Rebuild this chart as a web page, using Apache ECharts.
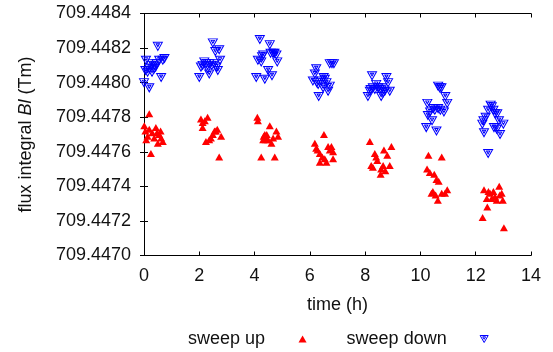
<!DOCTYPE html>
<html>
<head>
<meta charset="utf-8">
<script src="https://cdn.jsdelivr.net/npm/echarts@6/dist/echarts.min.js"></script>
<style>html,body{margin:0;padding:0;background:#fff;}#c{width:553px;height:352px;}</style>
</head>
<body>
<div id="c"></div>
<script>
// ---- data (time in h, flux integral in Tm) ----
const upTime = [
  0.19,0.01,0.19,0.43,0.13,0.37,0.55,0.62,0.68,0.50,0.25,0.05,0.30,0.47,0.60,0.08,
  2.06,2.30,2.12,2.12,2.60,2.49,2.79,2.36,2.24,2.72,2.55,2.65,2.42,2.20,
  4.10,4.12,4.55,4.79,4.85,4.37,4.31,4.49,4.61,4.24,4.73,4.40,4.44,4.67,4.33,
  6.51,6.18,6.23,6.66,6.78,6.36,6.84,6.54,6.84,6.36,6.60,6.28,6.72,6.45,
  8.17,8.95,8.68,8.35,8.80,8.44,8.22,8.28,8.89,8.58,8.73,8.56,8.65,8.40,
  10.29,10.77,10.24,10.34,10.50,10.58,10.66,10.45,10.40,10.77,10.89,10.97,10.63,10.55,
  12.30,12.46,12.64,12.85,12.94,12.40,12.58,12.76,12.98,12.42,12.25,13.02,12.52,12.70,12.87
];
const upFlux = [
  709.44782,709.44775,709.44773,709.44774,709.44769,709.44768,709.44770,709.44768,709.44766,709.44765,709.44759,709.44772,709.44771,709.44771,709.44772,709.44767,
  709.44779,709.44780,709.44777,709.44774,709.44772,709.44770,709.44769,709.44767,709.44766,709.44757,709.44772,709.44773,709.44768,709.44778,
  709.44780,709.44778,709.44775,709.44772,709.44769,709.44770,709.44767,709.44767,709.44765,709.44757,709.44757,709.44767,709.44770,709.44768,709.44769,
  709.44770,709.44765,709.44762,709.44763,709.44763,709.44759,709.44760,709.44756,709.44756,709.44754,709.44754,709.44761,709.44761,709.44757,
  709.44766,709.44763,709.44761,709.44759,709.44758,709.44755,709.44752,709.44751,709.44752,709.44750,709.44749,709.44747,709.44752,709.44757,
  709.44758,709.44757,709.44750,709.44748,709.44747,709.44744,709.44743,709.44737,709.44736,709.44736,709.44736,709.44738,709.44732,709.44735,
  709.44738,709.44737,709.44737,709.44740,709.44736,709.44733,709.44733,709.44732,709.44732,709.44728,709.44722,709.44716,709.44736,709.44734,709.44735
];
const downTime = [
  0.50,0.07,0.31,0.55,0.68,0.46,0.19,0.37,0.13,0.62,0.00,0.19,0.26,0.42,0.74,0.05,0.29,
  2.49,2.58,2.72,2.18,2.36,2.54,2.75,2.06,2.30,2.67,2.00,2.36,2.24,2.12,2.45,2.62,
  4.19,4.55,4.31,4.67,4.79,4.12,4.24,4.82,4.49,4.06,4.37,4.63,4.72,4.27,4.58,
  6.72,6.87,6.80,6.23,6.18,6.11,6.54,6.30,6.72,6.48,6.66,6.32,6.42,6.60,6.25,6.50,
  8.25,8.77,8.83,8.40,8.28,8.17,8.53,8.71,8.89,8.10,8.58,8.65,8.35,8.47,8.62,8.20,
  10.64,10.76,10.70,10.90,10.97,10.25,10.46,10.64,10.85,10.27,10.42,10.21,10.58,10.52,10.72,10.35,
  12.54,12.45,12.64,12.78,12.36,12.28,12.84,13.00,12.24,12.66,12.76,12.30,12.88,12.45,12.58,12.70
];
const downFlux = [
  709.44821,709.44813,709.44811,709.44813,709.44813,709.44811,709.44808,709.44808,709.44806,709.44803,709.44800,709.44797,709.44810,709.44809,709.44814,709.44807,709.44806,
  709.44823,709.44818,709.44819,709.44812,709.44811,709.44811,709.44813,709.44809,709.44808,709.44807,709.44803,709.44805,709.44811,709.44810,709.44810,709.44809,
  709.44825,709.44822,709.44816,709.44817,709.44816,709.44813,709.44812,709.44812,709.44807,709.44803,709.44802,709.44804,709.44817,709.44815,709.44817,
  709.44811,709.44811,709.44811,709.44808,709.44805,709.44801,709.44802,709.44799,709.44798,709.44797,709.44795,709.44792,709.44801,709.44800,709.44800,709.44803,
  709.44804,709.44803,709.44800,709.44799,709.44797,709.44795,709.44796,709.44795,709.44795,709.44792,709.44792,709.44794,709.44796,709.44797,709.44797,709.44796,
  709.44798,709.44797,709.44797,709.44792,709.44788,709.44788,709.44785,709.44785,709.44783,709.44781,709.44778,709.44774,709.44772,709.44784,709.44784,709.44783,
  709.44787,709.44784,709.44784,709.44782,709.44780,709.44778,709.44778,709.44776,709.44776,709.44774,709.44773,709.44771,709.44770,709.44759,709.44786,709.44782
];
const seriesNames = ['sweep up', 'sweep down'];
const xTicks = [0, 2, 4, 6, 8, 10, 12, 14];
const yTicks = ['709.4470','709.4472','709.4474','709.4476','709.4478','709.4480','709.4482','709.4484'];

// ---- chart ----
const FONT = 'Liberation Sans, Arial, Helvetica, sans-serif';
const TXT = '#111';
const upSymbol = 'path://M5,0L10,8.66L0,8.66Z';
const downSymbol = 'path://M0,0L10,0L5,8.66Z M3.2,1.6L6.8,1.6L5,4.7Z';
const xMin = xTicks[0], xMax = xTicks[xTicks.length-1];
const yMin = parseFloat(yTicks[0]), yMax = parseFloat(yTicks[yTicks.length-1]);

const tick = {show:true, inside:true, length:4, lineStyle:{color:'#000', width:1}};
const line = {show:true, lineStyle:{color:'#000', width:1}};
const upStyle = {color:'#ff0000', opacity:1};
const downStyle = {color:'rgba(255,255,255,0)', borderColor:'#0000ff', borderWidth:1, opacity:1};

const chart = echarts.init(document.getElementById('c'), null, {renderer:'canvas'});
chart.setOption({
  animation:false,
  backgroundColor:'#fff',
  textStyle:{fontFamily:FONT, color:TXT},
  grid:{left:144, right:22, top:13.5, bottom:96.5, containLabel:false},
  legend:{
    data:[
      {name:seriesNames[0], icon:upSymbol, itemStyle:upStyle},
      {name:seriesNames[1], icon:downSymbol, itemStyle:downStyle}
    ],
    top:325,
    left:183,
    align:'right',
    symbolKeepAspect:true,
    itemWidth:65, itemHeight:7, itemGap:40,
    textStyle:{fontFamily:FONT, fontSize:18, color:TXT}
  },
  xAxis:[{
    type:'value', min:xMin, max:xMax, interval:2,
    axisLine:line, axisTick:tick, splitLine:{show:false},
    axisLabel:{fontSize:18, color:TXT, fontFamily:FONT, margin:12},
    name:'time (h)', nameLocation:'middle', nameGap:41,
    nameTextStyle:{fontSize:18, color:TXT, fontFamily:FONT}
  },{
    type:'value', position:'top', min:xMin, max:xMax, interval:2,
    axisLine:line, axisTick:tick, axisLabel:{show:false}, splitLine:{show:false}
  }],
  yAxis:[{
    type:'value', min:yMin, max:yMax, interval:0.0002, scale:true,
    axisLine:line, axisTick:tick, splitLine:{show:false},
    axisLabel:{fontSize:18, color:TXT, fontFamily:FONT, margin:13,
      formatter:function(v){ return v.toFixed(4); }},
    name:'{n|flux integral }{i|Bl}{n| (Tm)}', nameLocation:'middle', nameRotate:90, nameGap:109,
    nameTextStyle:{fontSize:18, color:TXT, fontFamily:FONT,
      rich:{n:{fontSize:18, color:TXT, fontFamily:FONT}, i:{fontSize:18, color:TXT, fontFamily:FONT, fontStyle:'italic'}}}
  },{
    type:'value', position:'right', min:yMin, max:yMax, interval:0.0002, scale:true,
    axisLine:line, axisTick:tick, axisLabel:{show:false}, splitLine:{show:false}
  }],
  series:[{
    name:seriesNames[0], type:'scatter',
    data:upTime.map((t,i)=>[t, upFlux[i]]),
    symbol:upSymbol, symbolSize:[8,7],
    itemStyle:upStyle
  },{
    name:seriesNames[1], type:'scatter',
    data:downTime.map((t,i)=>[t, downFlux[i]]),
    symbol:downSymbol, symbolSize:[9,8],
    itemStyle:downStyle
  }]
});
</script>
</body>
</html>
